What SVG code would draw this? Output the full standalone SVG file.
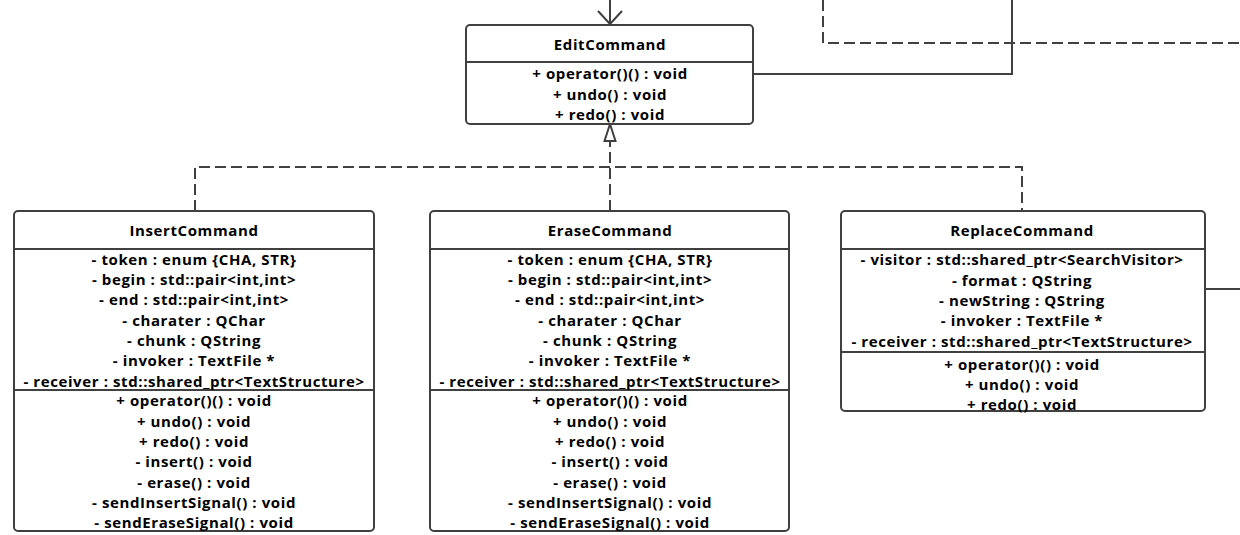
<svg xmlns="http://www.w3.org/2000/svg" width="1240" height="535" viewBox="0 0 1240 535">
<style>
.box{fill:#fff;stroke:#404040;stroke-width:2}
.div{stroke:#404040;stroke-width:2}
.t{font-family:"Open Sans","Noto Sans",sans-serif;font-weight:bold;font-size:15px;letter-spacing:0.6px;fill:#000;text-anchor:middle;dominant-baseline:central}
.c{fill:none;stroke:#404040;stroke-width:2}
.d{fill:none;stroke:#404040;stroke-width:2;stroke-dasharray:11 5}
</style>
<rect width="1240" height="535" fill="#fff"/>
<g id="connectors">
<path class="c" d="M610 0V24"/>
<path class="c" d="M598 11L610 24L622 11"/>
<path class="c" d="M753 74H1012V0"/>
<path class="d" d="M823 0V43H1240"/>
<path class="d" d="M195 211V167H1022V211"/>
<path class="d" d="M610 211V141"/>
<path class="c" d="M610 124L604.5 141H615.5Z" fill="#fff"/>
<path class="c" d="M1205 289H1240"/>
</g>
<g id="EditCommand">
<rect class="box" x="466" y="25" width="287" height="99" rx="4"/>
<line class="div" x1="466" y1="62" x2="753" y2="62"/>
<text class="t" x="610" y="44">EditCommand</text>
<text class="t" x="610" y="73">+ operator()() : void</text>
<text class="t" x="610" y="94">+ undo() : void</text>
<text class="t" x="610" y="114">+ redo() : void</text>
</g>
<g id="InsertCommand">
<rect class="box" x="14" y="211" width="360" height="320" rx="4"/>
<line class="div" x1="14" y1="249" x2="374" y2="249"/>
<line class="div" x1="14" y1="390" x2="374" y2="390"/>
<text class="t" x="194" y="230">InsertCommand</text>
<text class="t" x="194" y="259">- token : enum {CHA, STR}</text>
<text class="t" x="194" y="279">- begin : std::pair&lt;int,int&gt;</text>
<text class="t" x="194" y="299">- end : std::pair&lt;int,int&gt;</text>
<text class="t" x="194" y="320">- charater : QChar</text>
<text class="t" x="194" y="340">- chunk : QString</text>
<text class="t" x="194" y="360">- invoker : TextFile *</text>
<text class="t" x="194" y="381">- receiver : std::shared_ptr&lt;TextStructure&gt;</text>
<text class="t" x="194" y="400">+ operator()() : void</text>
<text class="t" x="194" y="421">+ undo() : void</text>
<text class="t" x="194" y="441">+ redo() : void</text>
<text class="t" x="194" y="461">- insert() : void</text>
<text class="t" x="194" y="482">- erase() : void</text>
<text class="t" x="194" y="502">- sendInsertSignal() : void</text>
<text class="t" x="194" y="522">- sendEraseSignal() : void</text>
</g>
<g id="EraseCommand">
<rect class="box" x="430" y="211" width="359" height="320" rx="4"/>
<line class="div" x1="430" y1="249" x2="789" y2="249"/>
<line class="div" x1="430" y1="390" x2="789" y2="390"/>
<text class="t" x="610" y="230">EraseCommand</text>
<text class="t" x="610" y="259">- token : enum {CHA, STR}</text>
<text class="t" x="610" y="279">- begin : std::pair&lt;int,int&gt;</text>
<text class="t" x="610" y="299">- end : std::pair&lt;int,int&gt;</text>
<text class="t" x="610" y="320">- charater : QChar</text>
<text class="t" x="610" y="340">- chunk : QString</text>
<text class="t" x="610" y="360">- invoker : TextFile *</text>
<text class="t" x="610" y="381">- receiver : std::shared_ptr&lt;TextStructure&gt;</text>
<text class="t" x="610" y="400">+ operator()() : void</text>
<text class="t" x="610" y="421">+ undo() : void</text>
<text class="t" x="610" y="441">+ redo() : void</text>
<text class="t" x="610" y="461">- insert() : void</text>
<text class="t" x="610" y="482">- erase() : void</text>
<text class="t" x="610" y="502">- sendInsertSignal() : void</text>
<text class="t" x="610" y="522">- sendEraseSignal() : void</text>
</g>
<g id="ReplaceCommand">
<rect class="box" x="841" y="211" width="364" height="200" rx="4"/>
<line class="div" x1="841" y1="249" x2="1205" y2="249"/>
<line class="div" x1="841" y1="352" x2="1205" y2="352"/>
<text class="t" x="1022" y="230">ReplaceCommand</text>
<text class="t" x="1022" y="259">- visitor : std::shared_ptr&lt;SearchVisitor&gt;</text>
<text class="t" x="1022" y="280">- format : QString</text>
<text class="t" x="1022" y="300">- newString : QString</text>
<text class="t" x="1022" y="320">- invoker : TextFile *</text>
<text class="t" x="1022" y="341">- receiver : std::shared_ptr&lt;TextStructure&gt;</text>
<text class="t" x="1022" y="364">+ operator()() : void</text>
<text class="t" x="1022" y="384">+ undo() : void</text>
<text class="t" x="1022" y="404">+ redo() : void</text>
</g>
</svg>
